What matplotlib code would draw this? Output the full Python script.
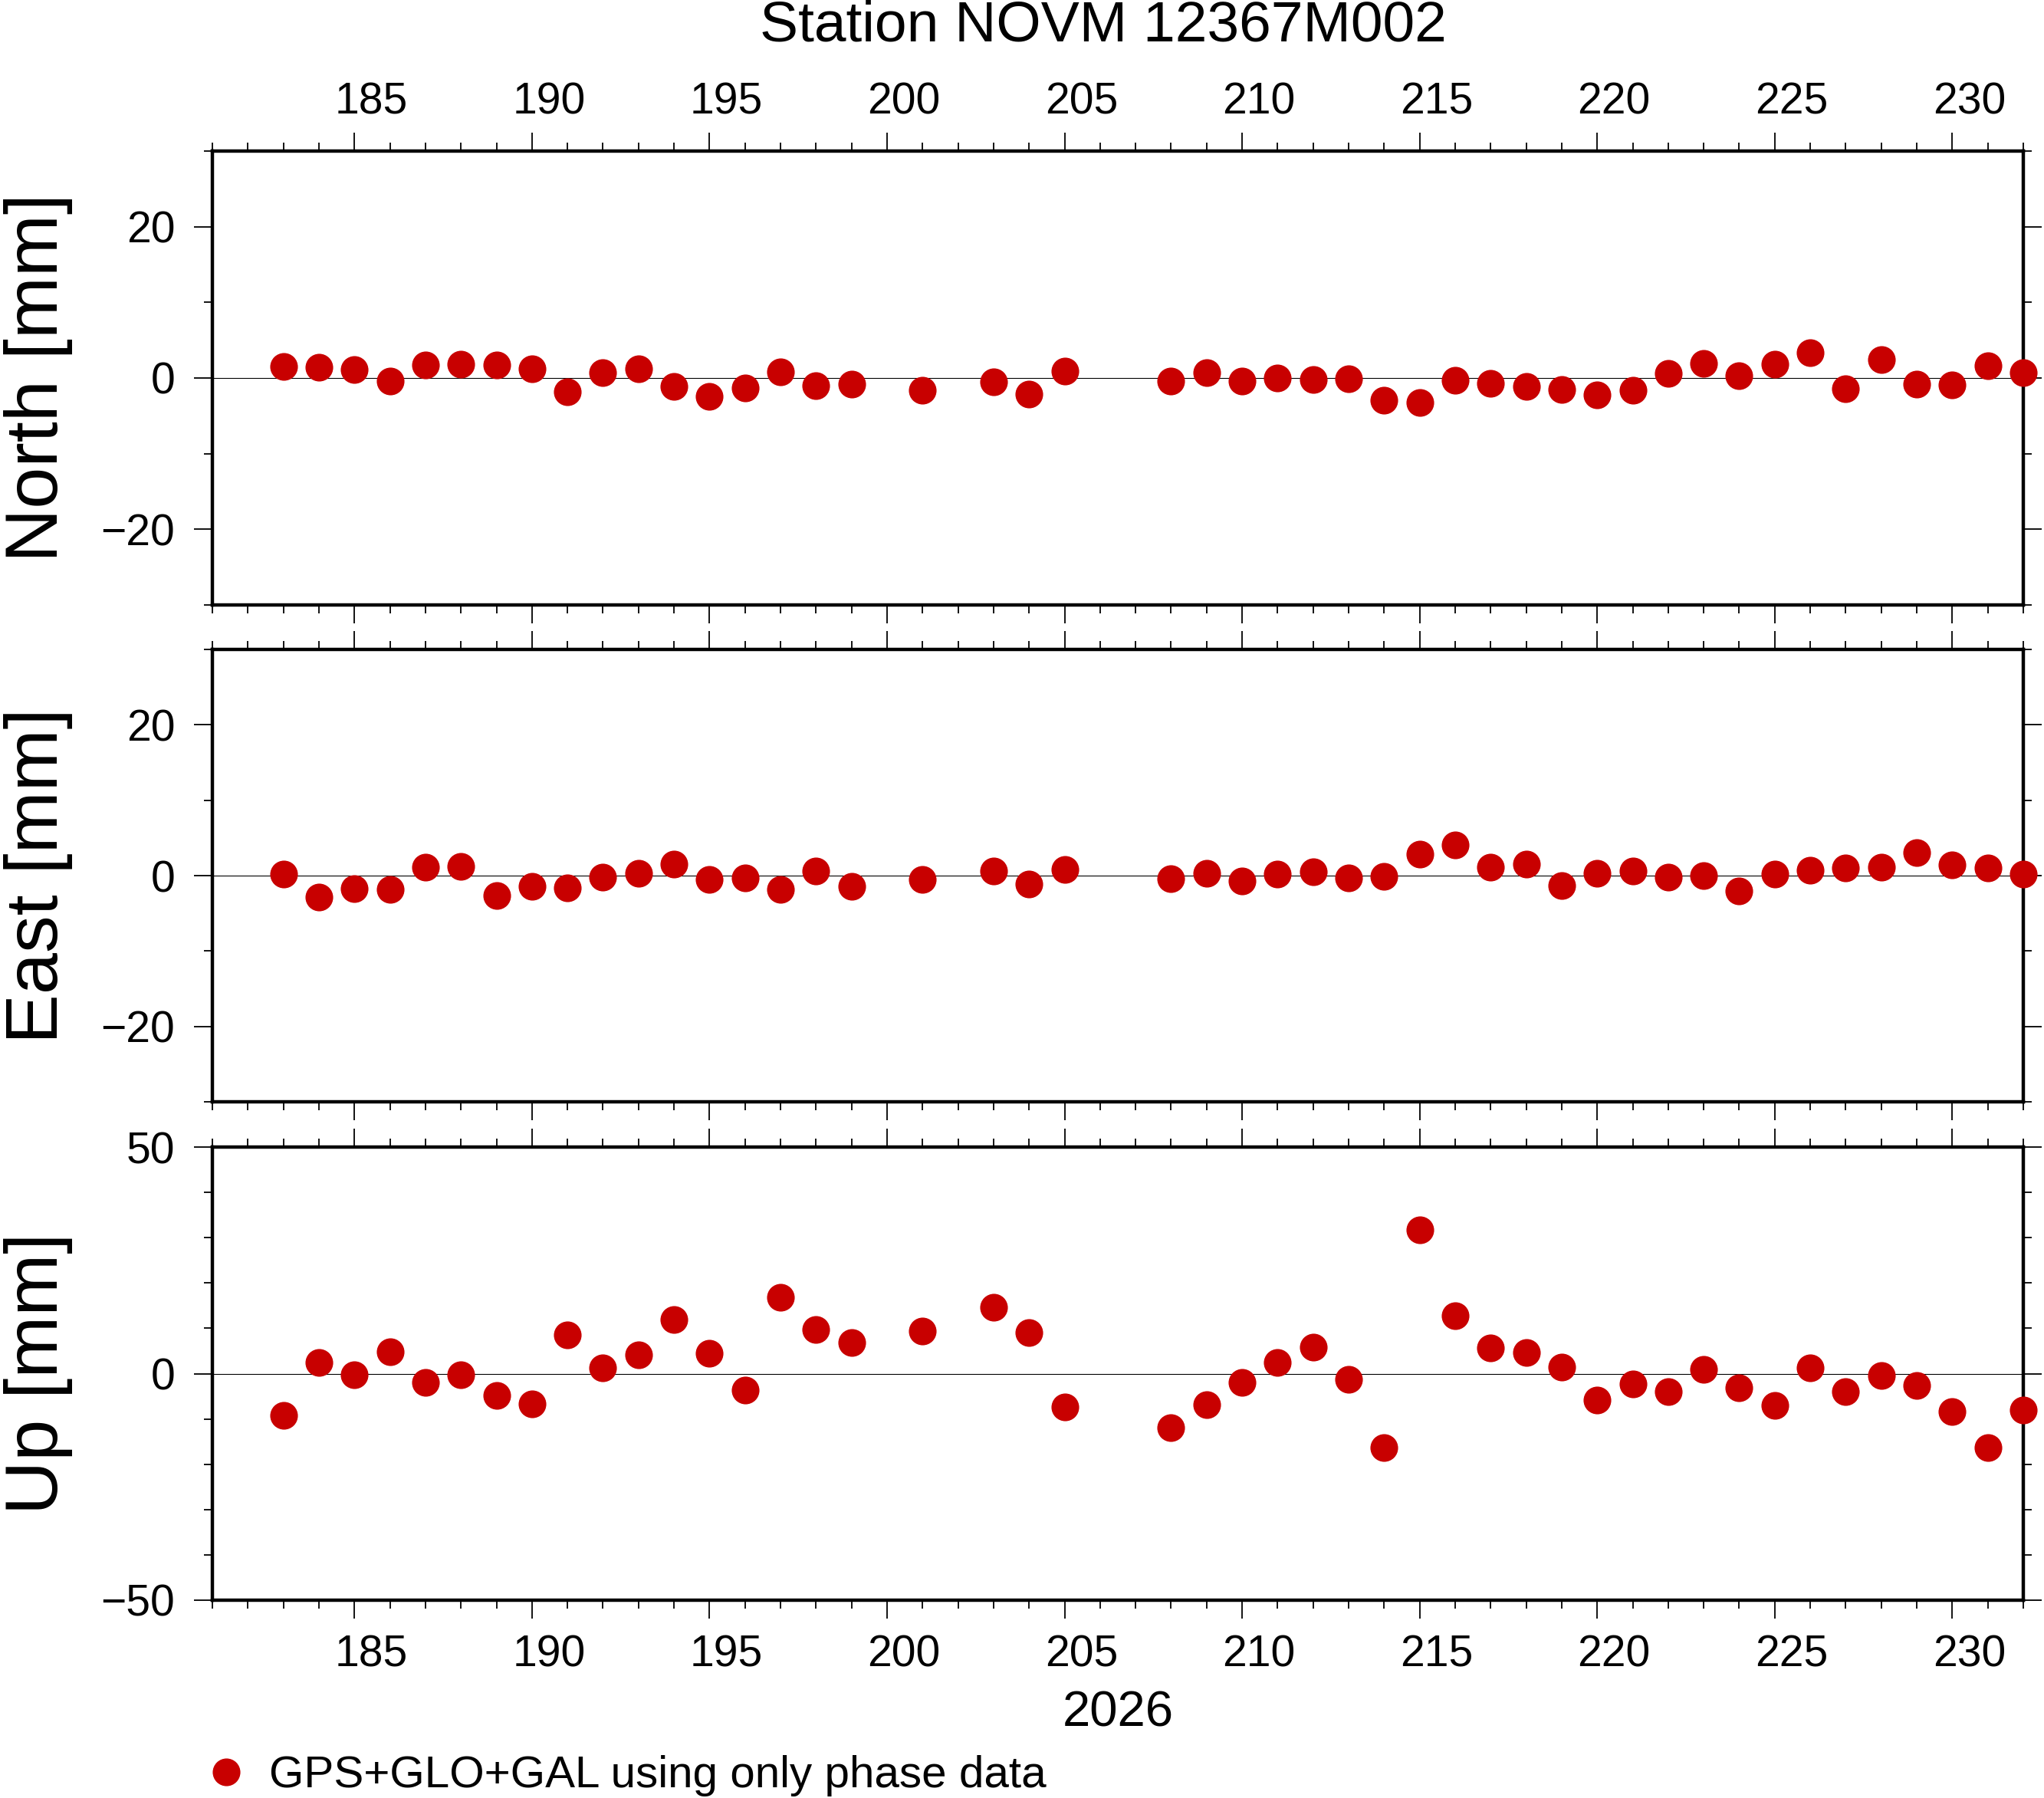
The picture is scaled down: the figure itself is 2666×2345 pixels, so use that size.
import matplotlib
matplotlib.use("Agg")
import matplotlib.pyplot as plt
from matplotlib.ticker import MultipleLocator
from matplotlib.lines import Line2D
from matplotlib.transforms import ScaledTranslation

plt.rcParams['font.family'] = ['Liberation Sans', 'DejaVu Sans']

# ---- data ----
days = [183, 184, 185, 186, 187, 188, 189, 190, 191, 192, 193, 194, 195, 196, 197, 198, 199,
        201, 203, 204, 205,
        208, 209, 210, 211, 212, 213, 214, 215, 216, 217, 218, 219, 220, 221, 222, 223, 224,
        225, 226, 227, 228, 229, 230, 231, 232]

north = [1.5, 1.4, 1.1, -0.4, 1.7, 1.8, 1.7, 1.2, -1.8, 0.7, 1.2, -1.1, -2.4, -1.3, 0.8, -1.0, -0.8,
         -1.6, -0.5, -2.1, 0.9,
         -0.4, 0.7, -0.4, 0.0, -0.2, -0.1, -2.9, -3.2, -0.3, -0.7, -1.1, -1.5, -2.2, -1.6, 0.6, 1.9, 0.3,
         1.8, 3.3, -1.4, 2.4, -0.8, -0.9, 1.6, 0.7]

east = [0.2, -2.8, -1.7, -1.8, 1.1, 1.2, -2.6, -1.4, -1.6, -0.2, 0.3, 1.5, -0.5, -0.3, -1.8, 0.6, -1.4,
        -0.5, 0.6, -1.1, 0.8,
        -0.4, 0.3, -0.7, 0.2, 0.5, -0.3, -0.1, 2.8, 4.1, 1.1, 1.5, -1.3, 0.3, 0.6, -0.2, 0.0, -2.0,
        0.2, 0.7, 1.0, 1.1, 3.1, 1.4, 1.0, 0.2]

up = [-9.2, 2.4, -0.2, 4.9, -2.0, -0.3, -4.9, -6.6, 8.5, 1.2, 4.1, 11.9, 4.4, -3.6, 16.8, 9.7, 6.9,
      9.4, 14.6, 9.0, -7.3,
      -11.9, -6.9, -2.0, 2.4, 5.8, -1.2, -16.3, 31.8, 12.7, 5.6, 4.7, 1.4, -5.9, -2.3, -3.9, 1.0, -3.1,
      -7.1, 1.2, -3.9, -0.5, -2.7, -8.4, -16.3, -8.1]

panel_labels = ["North [mm]", "East [mm]", "Up [mm]"]
panel_lims = [(-30, 30), (-30, 30), (-50, 50)]
panel_major = [20, 20, 50]
x_range = (181, 232)
title = "Station NOVM 12367M002"
year_label = "2026"
legend_label = "GPS+GLO+GAL using only phase data"
color = "#C80000"

W, H = 2666, 2345
fig = plt.figure(figsize=(W / 100, H / 100), dpi=100)

left = 277 / W
width = (2639 - 277) / W
panels_px = [(197, 789), (847, 1437), (1496, 2087)]
series = [north, east, up]

label_shift = ScaledTranslation(0.22, 0, fig.dpi_scale_trans)

axes = []
for i, (top_px, bot_px) in enumerate(panels_px):
    ax = fig.add_axes([left, 1 - bot_px / H, width, (bot_px - top_px) / H])
    axes.append(ax)
    ax.axhline(0, color='black', lw=0.8, zorder=1)
    ax.plot(days, series[i], 'o', linestyle='none', color=color, ms=26,
            mec=color, mew=0, clip_on=False, zorder=3)
    ax.set_xlim(*x_range)
    ax.set_ylim(*panel_lims[i])
    ax.xaxis.set_major_locator(MultipleLocator(5))
    ax.xaxis.set_minor_locator(MultipleLocator(1))
    ax.yaxis.set_major_locator(MultipleLocator(panel_major[i]))
    ax.yaxis.set_minor_locator(MultipleLocator(10))
    for s in ax.spines.values():
        s.set_linewidth(3.2)
    ax.tick_params(which='both', direction='out', top=True, bottom=True, left=True, right=True,
                   width=1.3, labelsize=41, color='black')
    ax.tick_params(which='major', length=17)
    ax.tick_params(which='minor', length=8)
    ax.tick_params(axis='y', pad=18)
    ax.tick_params(axis='x', pad=(15 if i == 2 else 9))
    ax.tick_params(axis='x', labeltop=(i == 0), labelbottom=(i == 2))
    ax.tick_params(axis='y', labelleft=True, labelright=False)
    for tick in ax.xaxis.get_major_ticks():
        tick.label1.set_transform(tick.label1.get_transform() + label_shift)
        tick.label2.set_transform(tick.label2.get_transform() + label_shift)
    cy = 1 - (top_px + bot_px) / 2 / H
    fig.text(75 / W, cy, panel_labels[i], rotation=90, rotation_mode='anchor',
             ha='center', va='baseline', fontsize=70)

fig.text(1439 / W, 1 - 34 / H, title, ha='center', va='center', fontsize=54)
fig.text(1458 / W, 1 - 2234 / H, year_label, ha='center', va='center', fontsize=47)

handle = Line2D([], [], marker='o', linestyle='none', color=color, ms=26, mew=0)
fig.legend(handles=[handle], labels=[legend_label], loc='center left',
           bbox_to_anchor=(266 / W, 1 - 2316 / H), frameon=False, fontsize=42,
           handlelength=1.0, handletextpad=0.45, borderpad=0, borderaxespad=0)

fig.savefig("out.png", dpi=100)
